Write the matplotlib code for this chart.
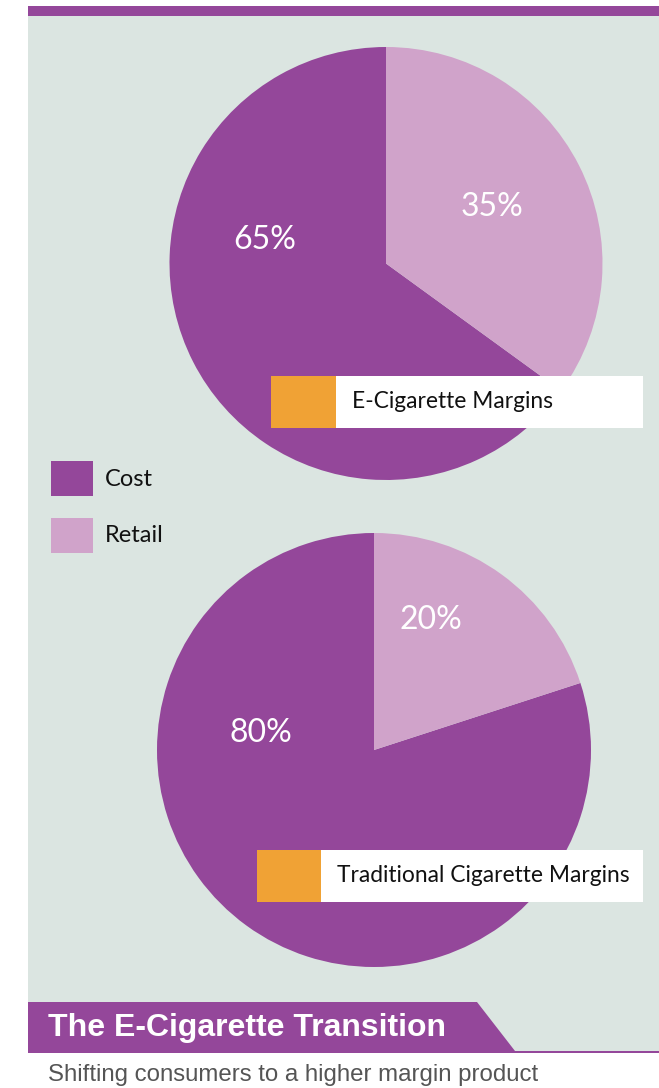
import matplotlib.pyplot as plt
from matplotlib.patches import Rectangle, Polygon

# --- Data ---
SEGMENTS = ["Cost", "Retail"]
ECIG_SHARE = [65, 35]
TRAD_SHARE = [80, 20]
ECIG_TITLE = "E-Cigarette Margins"
TRAD_TITLE = "Traditional Cigarette Margins"
HEADLINE = "The E-Cigarette Transition"
SUBHEAD = "Shifting consumers to a higher margin product"

# --- Style ---
W, H = 659, 1088
PURPLE = "#94479a"
LILAC = "#d0a3ca"
ORANGE = "#f0a235"
PANEL = "#dbe5e1"
LABEL_FONT = "Lato"


def px_axes(fig, cx, cy, r):
    """Square axes centred on pixel (cx, cy) with half-size r (y from top)."""
    return fig.add_axes([(cx - r) / W, 1 - (cy + r) / H, 2 * r / W, 2 * r / H])


def draw_pie(fig, values, cx, cy, r, label_pos):
    ax = px_axes(fig, cx, cy, r)
    # cost runs anticlockwise from 12 o'clock, leaving retail on the right
    ax.pie(values, colors=[PURPLE, LILAC], startangle=90, counterclock=True,
           radius=1, wedgeprops=dict(linewidth=0))
    ax.set_xlim(-1, 1)
    ax.set_ylim(-1, 1)
    ax.axis("off")
    for v, (lx, ly) in zip(values, label_pos):
        ax.text(lx, ly, f"{v}%", color="white", fontsize=23,
                family=LABEL_FONT, ha="center", va="center")


def name_tag(bg, text, x0, x1, x2, y0, y1):
    bg.add_patch(Rectangle((x0, y0), x1 - x0, y1 - y0, color=ORANGE, lw=0))
    bg.add_patch(Rectangle((x1, y0), x2 - x1, y1 - y0, color="white", lw=0))
    bg.text(x1 + 16, (y0 + y1) / 2, text, fontsize=16.4, family=LABEL_FONT,
            color="#111111", ha="left", va="center")


fig = plt.figure(figsize=(W / 100, H / 100), dpi=100)
fig.patch.set_facecolor("white")

# background layer in pixel coordinates
bg = fig.add_axes([0, 0, 1, 1])
bg.set_xlim(0, W)
bg.set_ylim(H, 0)
bg.axis("off")
bg.add_patch(Rectangle((28, 16), W - 28, 1035, color=PANEL, lw=0))
bg.add_patch(Rectangle((28, 6), W - 28, 10, color=PURPLE, lw=0))

# legend
for i, (name, col) in enumerate(zip(SEGMENTS, [PURPLE, LILAC])):
    y = 461 + i * 57
    bg.add_patch(Rectangle((51, y), 42, 35, color=col, lw=0))
    bg.text(105, y + 18, name, fontsize=17, family=LABEL_FONT,
            color="#111111", ha="left", va="center")

# headline banner
bg.add_patch(Polygon([(28, 1002), (477, 1002), (515, 1051), (W, 1051),
                      (W, 1053), (28, 1053)], closed=True, color=PURPLE, lw=0))
bg.text(48, 1028, HEADLINE, fontsize=23, weight="bold",
        family="Liberation Sans", color="white", ha="left", va="center")
bg.text(48, 1075, SUBHEAD, fontsize=17.3, family="Liberation Sans",
        color="#555555", ha="left", va="center")

draw_pie(fig, ECIG_SHARE, 386, 263.5, 216.5, [(-0.56, 0.11), (0.49, 0.26)])
draw_pie(fig, TRAD_SHARE, 374, 750, 217, [(-0.52, 0.08), (0.26, 0.60)])

# name tags sit on top of the pies
tags = fig.add_axes([0, 0, 1, 1])
tags.set_xlim(0, W)
tags.set_ylim(H, 0)
tags.axis("off")
name_tag(tags, ECIG_TITLE, 271, 336, 643, 376, 428)
name_tag(tags, TRAD_TITLE, 257, 321, 643, 850, 902)

fig.savefig("out.png", dpi=100)
